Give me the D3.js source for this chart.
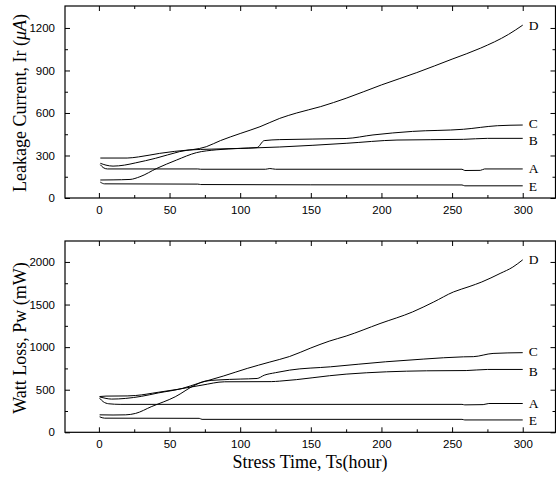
<!DOCTYPE html>
<html><head><meta charset="utf-8">
<script src="https://cdn.jsdelivr.net/npm/d3@7"></script>
<style>body{margin:0;background:#fff}svg{display:block}</style>
</head><body>
<svg id="c" width="556" height="481"></svg>
<script>
// ---------- data (hour, value) ----------
const xTicks = [0, 50, 100, 150, 200, 250, 300];
const xMinor = [25, 75, 125, 175, 225, 275];
const irTicks = [0, 300, 600, 900, 1200];
const irMinor = [150, 450, 750, 1050];
const pwTicks = [0, 500, 1000, 1500, 2000];
const pwMinor = [250, 750, 1250, 1750];
const seriesNames = ["A", "B", "C", "D", "E"];

// Leakage current Ir (uA)
const irA = [[1,235],[3,215],[6,205],[70,205],[72,203],[118,203],[121,208],[125,203],[257,203],[259,194],[270,195],[273,205],[300,205]];
const irB = [[1,282],[20,282],[28,290],[43,315],[64,339],[80,345],[100,350],[128,360],[175,386],[211,409],[258,414],[275,421],[300,421]];
const irC = [[1,127],[10,128],[22,131],[29,150],[41,209],[55,268],[69,320],[83,340],[100,350],[112,356],[117,405],[128,412],[175,420],[194,445],[222,470],[258,485],[282,510],[300,515]];
const irD = [[1,245],[5,232],[10,225],[18,232],[26,248],[40,280],[57,327],[76,362],[86,405],[100,455],[114,503],[128,562],[140,600],[157,645],[175,704],[200,798],[225,885],[250,980],[270,1057],[290,1155],[300,1220]];
const irE = [[1,112],[4,100],[70,98],[72,95],[150,93],[257,92],[259,86],[300,86]];

// Watt loss Pw (mW)
const pwA = [[0.5,400],[3,360],[7,335],[15,328],[257,328],[259,322],[272,325],[276,338],[300,338]];
const pwB = [[0.5,420],[5,425],[20,427],[26,432],[42,470],[56,505],[73,554],[89,593],[122,595],[128,601],[175,683],[232,722],[260,725],[275,738],[300,738]];
const pwC = [[0.5,205],[10,203],[19,205],[26,222],[37,300],[54,417],[68,554],[75,600],[85,615],[100,625],[112,632],[117,670],[125,700],[135,730],[164,769],[203,828],[230,860],[258,886],[265,888],[279,926],[300,935]];
const pwD = [[0.5,415],[5,398],[9,390],[19,398],[30,422],[42,462],[59,515],[71,578],[88,660],[105,750],[121,825],[135,890],[150,990],[163,1070],[175,1130],[199,1277],[222,1413],[237,1530],[251,1648],[262,1710],[271,1765],[284,1865],[293,1940],[300,2025]];
const pwE = [[0.5,182],[4,166],[71,164],[73,152],[257,152],[259,145],[300,145]];

const irSeries = [irA, irB, irC, irD, irE];
const pwSeries = [pwA, pwB, pwC, pwD, pwE];

// ---------- drawing ----------
const svg = d3.select("#c");
const left = 65, right = 555.5;
const x = d3.scaleLinear().domain([-24, 323.2]).range([left, right]);
// small vertical nudges so neighbouring end labels do not collide
const labelNudge = {A: 0, B: 2, C: -1.5, D: 0, E: 0.5};

const panels = [
  {top: 6, bottom: 198, domain: [0, 1355], ticks: irTicks, minor: irMinor, series: irSeries,
   title: ["Leakage Current, Ir (", "μA", ")"], italic: true, titleY: 103},
  {top: 241, bottom: 432.3, domain: [0, 2246], ticks: pwTicks, minor: pwMinor, series: pwSeries,
   title: ["Watt Loss, Pw (", "mW", ")"], italic: false, titleY: 338}
];

panels.forEach(p => {
  const y = d3.scaleLinear().domain(p.domain).range([p.bottom, p.top]);
  const g = svg.append("g");

  const styleAxis = sel => {
    sel.select(".domain").remove();
    sel.selectAll("line").attr("stroke", "#000").attr("stroke-width", 1);
    sel.selectAll("text").attr("font-family", "Liberation Sans, Arial, sans-serif")
      .attr("font-size", 11.5).attr("fill", "#000");
  };

  g.append("g").attr("transform", `translate(0,${p.bottom})`)
    .call(d3.axisBottom(x).tickValues(xTicks).tickSize(-5).tickPadding(8).tickFormat(d3.format("d")))
    .call(styleAxis);
  g.append("g").attr("transform", `translate(0,${p.bottom})`)
    .call(d3.axisBottom(x).tickValues(xMinor).tickSize(-3).tickFormat(""))
    .call(styleAxis);
  g.append("g").attr("transform", `translate(0,${p.top})`)
    .call(d3.axisTop(x).tickValues(xTicks).tickSize(-5).tickFormat(""))
    .call(styleAxis);
  g.append("g").attr("transform", `translate(0,${p.top})`)
    .call(d3.axisTop(x).tickValues(xMinor).tickSize(-3).tickFormat(""))
    .call(styleAxis);
  g.append("g").attr("transform", `translate(${left},0)`)
    .call(d3.axisLeft(y).tickValues(p.ticks).tickSize(-5).tickPadding(10).tickFormat(d3.format("d")))
    .call(styleAxis);
  g.append("g").attr("transform", `translate(${left},0)`)
    .call(d3.axisLeft(y).tickValues(p.minor).tickSize(-3).tickFormat(""))
    .call(styleAxis);
  g.append("g").attr("transform", `translate(${right},0)`)
    .call(d3.axisRight(y).tickValues(p.ticks).tickSize(-5).tickFormat(""))
    .call(styleAxis);
  g.append("g").attr("transform", `translate(${right},0)`)
    .call(d3.axisRight(y).tickValues(p.minor).tickSize(-3).tickFormat(""))
    .call(styleAxis);

  g.append("rect").attr("x", left).attr("y", p.top)
    .attr("width", right - left).attr("height", p.bottom - p.top)
    .attr("fill", "none").attr("stroke", "#000").attr("stroke-width", 1.2);

  const line = d3.line().x(d => x(d[0])).y(d => y(d[1])).curve(d3.curveMonotoneX);
  p.series.forEach((s, i) => {
    g.append("path").datum(s).attr("d", line)
      .attr("fill", "none").attr("stroke", "#000").attr("stroke-width", 1);
    const last = s[s.length - 1];
    const name = seriesNames[i];
    g.append("text").attr("x", x(last[0]) + 6).attr("y", y(last[1]) + labelNudge[name])
      .attr("dy", "0.33em")
      .attr("font-family", "Liberation Serif, Times New Roman, serif")
      .attr("font-size", 13.5).text(name);
  });

  const t = g.append("text")
    .attr("transform", `translate(26,${p.titleY}) rotate(-90)`)
    .attr("text-anchor", "middle")
    .attr("font-family", "Liberation Serif, Times New Roman, serif")
    .attr("font-size", 18);
  t.append("tspan").text(p.title[0]);
  t.append("tspan").attr("font-style", p.italic ? "italic" : "normal").text(p.title[1]);
  t.append("tspan").text(p.title[2]);
});

svg.append("text").attr("x", 310).attr("y", 468)
  .attr("text-anchor", "middle")
  .attr("font-family", "Liberation Serif, Times New Roman, serif")
  .attr("font-size", 18).text("Stress Time, Ts(hour)");
</script>
</body></html>
